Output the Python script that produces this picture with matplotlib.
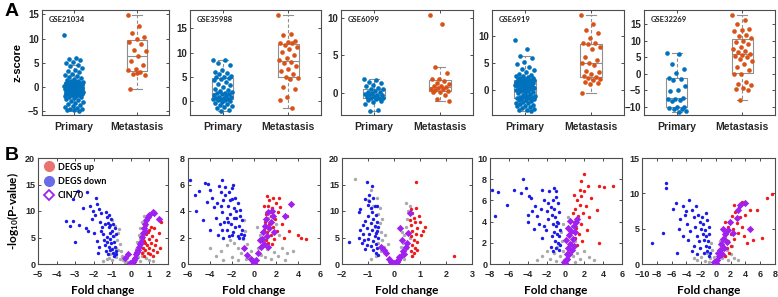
import numpy as np
import matplotlib
matplotlib.use('Agg')
import matplotlib.pyplot as plt
from matplotlib.lines import Line2D

plt.rcParams['font.family'] = ['Liberation Sans', 'DejaVu Sans']
plt.rcParams['mathtext.fontset'] = 'custom'
plt.rcParams['mathtext.rm'] = 'Lato:bold'
plt.rcParams['mathtext.it'] = 'Lato:bold'
plt.rcParams['mathtext.default'] = 'rm'

# ---- panel A: z-scores per dataset ----
datasets = ['GSE21034', 'GSE35988', 'GSE6099', 'GSE6919', 'GSE32269']
groups = ['Primary', 'Metastasis']

gse21034_primary = [10.7, 6.0, 5.8, 5.6, 5.2, 4.9, 4.6, 4.3, 3.9, 3.6, 3.3, 3.0, 2.7, 2.5, 2.2, 2.0, 1.8, 1.6, 1.4, 1.3, 1.2, 1.1,
                    1.0, 0.95, 0.9, 0.8, 0.75, 0.7, 0.6, 0.55, 0.5, 0.4, 0.35, 0.3, 0.2, 0.15, 0.1, 0.05, 0.0, -0.05, -0.1, -0.1, -0.15, -0.2,
                    -0.25, -0.3, -0.35, -0.4, -0.5, -0.55, -0.6, -0.7, -0.75, -0.8, -0.9, -0.95, -1.0, -1.05, -1.1, -1.2, -1.25, -1.3, -1.35, -1.4, -1.45, -1.5,
                    -1.6, -1.7, -1.8, -1.9, -2.0, -2.1, -2.3, -2.5, -2.7, -2.9, -3.1, -3.3, -3.5, -3.7, -3.9, -4.1, -4.3, -4.5, -4.6, -4.7, -4.8, -4.9]
gse21034_meta = [14.9, 12.5, 11.2, 10.3, 10.0, 9.2, 8.8, 7.6, 7.4, 6.3, 5.4, 4.6, 3.8, 3.4, 3.0, 2.7, 2.5, 2.9, -0.4]

gse35988_primary = [8.5, 8.4, 7.8, 7.5, 6.5, 6.0, 5.8, 5.5, 5.2, 5.0, 4.9, 4.8, 4.6, 4.4, 4.0, 3.6, 3.2, 2.8, 2.4, 2.2, 2.0, 1.8, 1.7, 1.6,
                    1.5, 1.4, 1.2, 1.0, 0.9, 0.8, 0.7, 0.6, 0.5, 0.4, 0.35, 0.3, 0.2, 0.0, -0.2, -0.4, -0.6, -0.8, -1.0, -1.2, -1.5, -1.8, -2.0]
gse35988_meta = [17.8, 13.9, 13.6, 12.4, 12.2, 12.0, 11.9, 11.6, 11.2, 10.8, 10.2, 9.6, 8.8, 8.4, 8.0, 7.8, 7.2, 6.7, 6.2, 5.6,
                 5.0, 4.8, 4.6, 2.9, 2.5, 0.8, 0.2, -1.4]

gse6099_primary = [1.8, 1.7, 1.5, 1.3, 1.1, 0.9, 0.7, 0.6, 0.5, 0.3, 0.2, 0.1, 0.0, -0.1, -0.2, -0.3, -0.3, -0.4, -0.5, -0.6,
                   -0.7, -0.7, -0.8, -0.9, -1.0, -1.2, -1.4, -2.2, -2.4]
gse6099_meta = [10.3, 9.2, 3.5, 2.6, 1.9, 1.8, 1.6, 1.4, 1.2, 1.0, 0.9, 0.8, 0.7, 0.6, 0.5, 0.4, 0.3, 0.2, 0.1, -0.3, -0.8, -1.1]

gse6919_primary = [9.3, 7.5, 6.3, 5.8, 5.2, 4.7, 4.3, 3.9, 3.6, 3.3, 3.0, 2.8, 2.6, 2.45, 2.3, 2.2, 2.1, 2.0, 1.9, 1.85,
                   1.8, 1.75, 1.7, 1.6, 1.55, 1.5, 1.4, 1.35, 1.3, 1.2, 1.15, 1.1, 1.0, 0.95, 0.9, 0.85, 0.8, 0.75, 0.7, 0.65,
                   0.55, 0.5, 0.4, 0.3, 0.2, 0.1, 0.0, -0.1, -0.2, -0.3, -0.45, -0.6, -0.7, -0.8, -0.95, -1.1, -1.2, -1.3, -1.4, -1.45,
                   -1.55, -1.6, -1.7, -1.8, -1.9, -2.0, -2.1, -2.2, -2.4, -2.5, -2.7, -2.8, -3.0, -3.1, -3.3, -3.4, -3.5, -3.7, -3.8, -4.0]
gse6919_meta = [13.9, 12.2, 11.0, 10.5, 9.6, 8.7, 8.6, 8.4, 8.0, 7.5, 6.0, 5.5, 5.0, 4.9, 4.6, 3.5, 3.2, 3.0, 2.6, 2.4,
                2.2, 2.0, 1.8, 1.5, 1.2, 1.0, -0.7]

gse32269_primary = [6.2, 6.0, 2.8, 1.5, 0.2, -1.2, -1.5, -2.0, -3.8, -5.0, -5.2, -7.5, -7.6, -7.8, -8.0, -8.2, -10.0, -10.2,
                    -10.4, -10.6, -10.8, -11.2, -11.5]
gse32269_meta = [17.8, 16.2, 15.0, 13.5, 13.2, 12.8, 11.8, 11.3, 10.8, 10.0, 9.5, 9.0, 8.2, 7.5, 7.0, 6.5, 6.0, 5.8, 5.5, 5.0,
                 4.5, 4.0, 3.0, 2.0, 1.0, 0.0, -0.2, -2.5, -3.0, -3.5, -4.2, -4.5, -5.0, -8.0]

zscores = [(gse21034_primary, gse21034_meta), (gse35988_primary, gse35988_meta), (gse6099_primary, gse6099_meta),
           (gse6919_primary, gse6919_meta), (gse32269_primary, gse32269_meta)]
z_ylims = [(-5.8, 15.9), (-2.9, 18.8), (-2.9, 11.0), (-4.7, 14.8), (-12.5, 19.3)]
z_yticks = [[-5, 0, 5, 10, 15], [0, 5, 10, 15], [0, 5, 10], [0, 5, 10], [-10, -5, 0, 5, 10, 15]]

# ---- panel B: volcano plots (fold change, -log10 p) ----
v1_gray = [(-1.5, 0.6), (-1.2, 1.2), (-1.0, 0.8), (-0.9, 2.0), (-0.8, 3.1), (-0.75, 4.5), (-0.7, 5.8), (-0.65, 6.6), (-0.6, 3.8),
           (-0.55, 2.4), (-0.5, 1.5), (-0.4, 0.8), (-0.3, 0.4), (-0.6, 1.0), (-0.8, 1.4), (-1.1, 1.8), (-1.3, 0.9), (-0.7, 2.7),
           (0.2, 1.8), (0.3, 2.9), (0.35, 4.2), (0.45, 5.5), (0.5, 6.8), (0.6, 8.0), (0.7, 9.0), (0.55, 3.6), (0.4, 1.3), (0.6, 1.5),
           (0.8, 1.2), (1.0, 0.8), (1.2, 0.5), (0.5, 0.6), (-0.2, 0.3), (0.1, 0.2), (0.65, 2.2), (0.5, 4.8), (0.75, 7.5),
           (-0.85, 7.2), (-1.0, 8.3), (-0.9, 5.2)]
v1_down = [(-3.5, 8.1), (-3.1, 8.2), (-3.3, 7.2), (-2.8, 7.4), (-3.1, 12.2), (-2.85, 13.8), (-2.35, 13.5), (-1.9, 12.5),
           (-2.4, 6.8), (-2.3, 6.2), (-2.0, 5.8), (-1.8, 4.3), (-1.7, 3.3), (-1.75, 2.0), (-3.0, 4.2), (-2.6, 10.5), (-2.2, 11.0),
           (-2.05, 10.0), (-1.95, 9.2), (-2.1, 8.4), (-1.8, 11.3), (-1.7, 10.4), (-1.6, 9.6), (-1.65, 8.0), (-1.55, 7.0),
           (-1.5, 5.6), (-1.45, 4.5), (-1.6, 6.2), (-1.35, 9.8), (-1.3, 8.9), (-1.25, 7.8), (-1.2, 6.9), (-1.15, 5.9),
           (-1.1, 4.8), (-1.05, 3.9), (-1.0, 2.9), (-0.95, 2.1), (-0.9, 1.6), (-1.4, 3.6), (-1.35, 2.5), (-1.3, 5.1),
           (-1.2, 3.2), (-1.1, 7.3), (-1.0, 6.3), (-0.95, 5.2), (-0.9, 4.2), (-0.85, 3.3), (-0.8, 2.5), (-1.25, 1.9),
           (-1.15, 2.6), (-1.05, 8.5), (-0.95, 7.6), (-0.85, 6.8), (-0.8, 5.7), (-1.4, 7.5), (-1.2, 9.2), (-1.3, 4.2), (-0.8, 1.8)]
v1_up = [(0.6, 2.0), (0.65, 3.1), (0.7, 4.4), (0.7, 1.6), (0.75, 2.6), (0.8, 5.6), (0.85, 3.6), (0.9, 2.1), (0.95, 4.8),
         (1.0, 6.4), (1.0, 3.0), (1.05, 1.8), (1.1, 4.0), (1.15, 5.2), (1.2, 2.6), (1.25, 6.8), (1.3, 3.5), (1.35, 4.6),
         (1.4, 2.2), (1.5, 5.8), (1.55, 3.1), (1.6, 7.9), (0.8, 7.3), (0.9, 6.1), (1.1, 7.0), (0.75, 4.0), (1.2, 1.5), (0.65, 5.0)]
v1_cin = [(-0.3, 1.1), (-0.17, 1.9), (0.0, 0.0), (0.05, 0.1), (0.1, 0.3), (0.15, 0.7), (-0.05, 0.2), (0.2, 1.2), (0.3, 1.8),
          (0.4, 2.6), (0.46, 3.3), (0.55, 4.2), (0.6, 5.1), (0.64, 5.9), (0.7, 6.8), (0.78, 7.6), (0.82, 8.3), (0.9, 8.9),
          (1.0, 9.2), (1.2, 9.8), (1.25, 9.6), (1.5, 8.5), (0.5, 3.8), (0.35, 2.2), (0.75, 6.3)]

v2_gray = [(-3.5, 0.6), (-3.0, 1.0), (-2.5, 1.4), (-2.0, 0.5), (-1.8, 1.6), (-1.5, 1.2), (-1.2, 0.8), (-1.0, 1.9), (-0.8, 2.5),
           (-0.6, 1.5), (-0.5, 0.5), (-0.3, 1.0), (-0.2, 0.3), (0.2, 0.4), (0.4, 1.2), (0.5, 2.2), (0.6, 0.7), (0.8, 1.6),
           (1.0, 0.5), (1.2, 1.1), (1.5, 0.4), (1.8, 0.9), (2.2, 0.6), (2.5, 1.2), (3.0, 0.8), (-4.0, 1.2), (-2.2, 1.8),
           (-1.5, 0.3), (0.9, 2.8), (1.3, 3.5), (1.6, 4.2), (2.0, 3.0), (2.3, 2.2), (-0.9, 3.3), (-0.7, 0.4), (0.3, 2.8),
           (1.1, 1.9), (-2.8, 0.3), (2.8, 0.3), (3.5, 1.0)]
v2_down = [(-5.8, 6.35), (-4.5, 6.1), (-4.2, 6.05), (-5.0, 5.5), (-5.3, 4.0), (-4.6, 3.3), (-2.9, 6.35), (-4.0, 5.6),
           (-3.8, 5.0), (-3.6, 4.3), (-4.3, 4.7), (-5.4, 5.2), (-3.2, 5.9), (-3.5, 3.5), (-4.0, 2.6), (-3.3, 2.2),
           (-3.0, 5.4), (-2.8, 4.8), (-2.6, 5.2), (-2.4, 4.4), (-2.2, 3.8), (-2.0, 4.9), (-1.8, 4.2), (-1.6, 3.5), (-1.4, 2.9),
           (-1.2, 2.3), (-1.0, 2.0), (-2.9, 3.9), (-2.7, 3.2), (-2.5, 2.6), (-2.3, 2.1), (-2.1, 3.0), (-1.9, 2.4), (-1.7, 2.8),
           (-1.5, 2.1), (-1.3, 3.6), (-1.1, 2.6), (-0.9, 2.2), (-2.6, 5.8), (-2.3, 5.4), (-2.0, 5.7), (-1.7, 5.0), (-1.5, 4.6),
           (-1.3, 4.1), (-1.1, 3.3), (-2.9, 2.6), (-3.1, 3.0), (-2.2, 4.8), (-1.8, 3.5), (-1.6, 4.0), (-1.9, 6.0), (-2.5, 3.5),
           (-3.4, 4.6), (-3.0, 4.4), (-2.8, 2.0), (-2.4, 3.2), (-2.0, 2.2), (-1.4, 2.0)]
v2_up = [(0.8, 2.0), (0.9, 2.6), (1.0, 3.2), (1.05, 1.8), (1.1, 3.8), (1.2, 2.4), (1.25, 4.4), (1.3, 1.6), (1.35, 3.0),
         (1.4, 4.8), (1.5, 2.2), (1.55, 3.6), (1.6, 4.2), (1.7, 2.8), (1.75, 5.0), (1.8, 1.9), (1.9, 3.4), (2.0, 4.6),
         (2.1, 2.5), (2.2, 3.9), (2.3, 5.0), (2.5, 3.0), (2.7, 2.0), (2.98, 3.6), (3.2, 2.5), (4.0, 2.2), (4.3, 2.0),
         (4.7, 1.9), (1.6, 1.5), (0.95, 4.4), (1.15, 5.1), (2.4, 4.3)]
v2_cin = [(-0.9, 1.2), (-0.6, 0.7), (-0.3, 0.4), (0.0, 0.1), (0.2, 0.3), (0.4, 0.8), (0.6, 1.3), (0.7, 1.9), (0.8, 2.4),
          (0.9, 1.5), (1.0, 2.9), (1.1, 3.4), (1.2, 2.1), (1.3, 3.9), (1.4, 2.7), (1.5, 3.2), (1.6, 4.0), (1.7, 3.6),
          (1.8, 2.4), (2.85, 3.6), (3.4, 4.5), (-0.1, 0.2), (0.5, 1.8), (1.25, 1.3)]

v3_gray = [(-1.5, 16.0), (-1.0, 12.0), (-0.9, 14.0), (-0.8, 11.0), (-0.6, 9.5), (-0.55, 7.8), (-0.5, 6.0), (-0.45, 4.6),
           (-0.4, 3.2), (-0.3, 2.0), (-0.2, 1.0), (-0.5, 2.5), (-0.6, 4.0), (-0.55, 10.5), (-0.45, 8.5), (-0.35, 5.5),
           (-0.7, 1.5), (-0.9, 1.0), (-0.25, 3.8), (0.2, 1.2), (0.3, 2.4), (0.35, 4.0), (0.4, 5.5), (0.45, 7.0), (0.5, 8.5),
           (0.55, 10.0), (0.6, 11.0), (0.5, 3.0), (0.6, 5.0), (0.4, 1.0), (0.7, 1.5), (0.1, 0.5), (-0.1, 0.4), (0.45, 11.5),
           (0.3, 6.0), (-0.65, 12.5), (-0.75, 7.0), (0.25, 3.2)]
v3_down = [(-1.04, 15.4), (-0.85, 14.7), (-1.3, 10.3), (-1.33, 9.8), (-1.2, 7.4), (-1.15, 4.6), (-1.25, 3.9), (-1.75, 4.2),
           (-1.1, 12.3), (-0.95, 13.0), (-0.8, 12.4), (-1.0, 11.2), (-0.9, 10.6), (-0.75, 10.9), (-0.85, 9.9), (-0.7, 9.2),
           (-1.0, 9.0), (-0.8, 8.4), (-0.65, 8.0), (-0.9, 7.7), (-0.75, 7.2), (-1.05, 6.7), (-0.85, 6.4), (-0.65, 6.2),
           (-0.95, 5.6), (-0.75, 5.3), (-0.6, 4.9), (-1.0, 4.7), (-0.8, 4.3), (-0.7, 3.8), (-0.9, 3.4), (-0.65, 3.0),
           (-0.8, 2.6), (-0.7, 2.1), (-0.6, 1.7), (-1.1, 2.8), (-1.2, 5.6), (-1.3, 6.4), (-1.1, 8.2), (-0.95, 11.8),
           (-0.65, 11.0), (-0.7, 5.8), (-0.6, 7.0), (-1.35, 5.0), (-1.05, 3.6)]
v3_up = [(0.85, 15.4), (0.65, 10.3), (0.7, 9.6), (0.75, 8.7), (0.8, 7.9), (0.65, 7.4), (0.9, 6.8), (0.7, 6.2), (0.85, 5.7),
         (0.65, 5.2), (0.75, 4.6), (0.9, 4.1), (0.7, 3.6), (0.8, 3.0), (0.65, 2.5), (0.75, 2.0), (0.7, 1.6), (1.0, 8.0),
         (1.2, 7.0), (1.05, 5.5), (0.95, 9.0), (1.1, 6.2), (0.9, 2.7), (2.32, 1.5), (0.6, 8.3), (0.85, 10.5)]
v3_cin = [(-0.5, 3.2), (-0.4, 2.6), (-0.3, 2.0), (-0.2, 1.0), (-0.1, 0.4), (0.0, 0.1), (0.05, 0.0), (0.1, 0.3), (0.15, 0.8),
          (0.2, 1.3), (0.24, 6.8), (0.3, 4.6), (0.5, 3.9), (0.55, 5.8), (0.6, 9.6), (0.35, 2.4), (0.45, 3.2), (-0.05, 0.2),
          (0.4, 1.8), (0.25, 1.6)]

v4_gray = [(-2.5, 0.8), (-2.0, 1.2), (-1.6, 0.5), (-1.2, 1.0), (-0.9, 1.6), (-0.6, 0.8), (-0.4, 2.2), (-0.3, 1.2), (-0.2, 0.4),
           (0.2, 0.6), (0.4, 2.8), (0.5, 1.6), (0.7, 3.6), (0.8, 0.8), (1.0, 2.2), (1.2, 1.0), (1.5, 0.5), (2.0, 1.2),
           (2.5, 0.7), (-0.5, 3.0), (-0.3, 3.8), (0.3, 4.4), (-3.0, 0.4), (3.0, 0.4), (-1.0, 0.3), (1.0, 0.2), (-0.7, 1.9),
           (0.6, 1.2)]
v4_down = [(-7.8, 7.0), (-7.2, 6.75), (-7.5, 4.5), (-4.7, 6.7), (-4.2, 7.2), (-3.9, 6.4), (-3.7, 6.2), (-4.0, 4.6),
           (-4.0, 4.0), (-3.0, 4.5), (-2.3, 3.6), (-3.2, 5.5), (-1.7, 6.9), (-0.95, 6.9), (-1.25, 7.2), (-2.6, 5.2),
           (-2.3, 6.0), (-2.0, 5.0), (-1.9, 4.2), (-2.1, 3.2), (-2.8, 3.8), (-3.5, 5.0), (-2.5, 7.0), (-1.8, 5.8),
           (-3.3, 3.3), (-1.5, 5.4), (-1.4, 4.6), (-1.3, 3.8), (-1.2, 3.0), (-1.1, 2.2), (-1.0, 1.5), (-1.45, 2.6),
           (-1.35, 6.0), (-1.2, 5.2), (-1.1, 4.4), (-1.0, 3.6), (-0.9, 2.8), (-0.8, 2.0), (-0.7, 1.3), (-0.65, 4.9),
           (-0.6, 3.2), (-0.55, 1.8), (-0.8, 5.8), (-0.9, 4.0), (-1.55, 1.6), (-1.3, 1.2), (-0.75, 3.9), (-1.0, 6.3),
           (-0.7, 2.6), (-2.5, 2.5), (-4.5, 8.0), (-5.5, 7.0), (-6.2, 5.6)]
v4_up = [(0.6, 2.0), (0.7, 3.0), (0.8, 1.5), (0.9, 4.0), (1.0, 2.5), (1.0, 5.2), (1.1, 3.4), (1.2, 6.0), (1.2, 1.8),
         (1.3, 4.5), (1.4, 2.8), (1.5, 5.6), (1.5, 7.0), (1.6, 3.8), (1.7, 6.4), (1.8, 2.2), (1.9, 4.8), (1.95, 8.5),
         (2.0, 6.9), (2.2, 5.5), (2.3, 3.2), (2.5, 4.4), (2.7, 6.2), (3.35, 5.1), (3.6, 2.0), (3.6, 7.4), (4.1, 7.3),
         (5.05, 7.4), (0.9, 6.5), (1.6, 7.8), (2.4, 7.4), (0.75, 4.8)]
v4_cin = [(0.0, 0.1), (0.1, 0.4), (-0.1, 0.2), (0.2, 0.9), (0.3, 1.5), (0.1, 2.3), (0.3, 3.4), (0.4, 2.7), (0.5, 1.9),
          (0.6, 3.1), (0.7, 1.3), (0.8, 2.4), (0.9, 3.6), (1.0, 3.0), (1.13, 4.0), (1.2, 4.2), (0.5, 4.1), (0.2, 0.5),
          (0.4, 0.9), (0.9, 1.7)]

v5_gray = [(-2.5, 0.5), (-2.0, 1.0), (-1.5, 0.4), (-1.2, 1.6), (-0.8, 0.8), (-0.5, 2.0), (-0.3, 1.0), (0.3, 0.6), (0.5, 1.8),
           (0.8, 0.9), (1.0, 2.5), (1.3, 1.2), (1.6, 0.6), (2.0, 1.4), (2.5, 0.8), (3.0, 0.5), (-3.0, 0.8), (0.6, 3.2),
           (1.2, 3.8), (-0.6, 3.0), (1.5, 2.0), (-1.0, 0.3), (0.2, 0.2), (2.2, 2.5)]
v5_down = [(-6.8, 11.5), (-6.7, 10.8), (-7.1, 4.4), (-8.6, 2.95), (-5.2, 1.5), (-5.4, 8.7), (-4.5, 8.2), (-3.6, 9.1),
           (-3.2, 7.7), (-5.8, 7.8), (-4.8, 6.4), (-5.0, 5.0), (-4.2, 6.9), (-3.9, 5.6), (-3.5, 4.6), (-4.4, 4.0), (-3.8, 3.4),
           (-3.0, 6.6), (-2.8, 5.2), (-2.6, 4.0), (-2.9, 2.6), (-3.3, 1.9), (-2.4, 7.0), (-2.2, 6.0), (-2.0, 5.0), (-1.8, 4.2),
           (-1.6, 3.4), (-1.4, 2.6), (-1.2, 1.8), (-1.0, 1.2), (-2.3, 3.2), (-2.1, 2.2), (-1.9, 6.6), (-1.7, 5.6), (-1.5, 4.8),
           (-1.3, 4.0), (-1.1, 3.2), (-0.9, 2.4), (-0.8, 1.5), (-2.5, 1.4), (-1.6, 1.5), (-1.0, 5.2), (-0.9, 4.2), (-1.2, 6.2),
           (-2.7, 8.2), (-4.0, 7.5), (-1.4, 7.2)]
v5_up = [(0.8, 1.5), (1.0, 2.6), (1.2, 3.6), (1.2, 1.2), (1.4, 4.5), (1.5, 2.2), (1.6, 5.2), (1.7, 3.2), (1.8, 1.6), (1.9, 6.0),
         (2.0, 4.2), (2.1, 2.6), (2.2, 6.8), (2.3, 5.0), (2.5, 3.5), (2.6, 7.4), (2.8, 5.8), (3.0, 4.4), (3.1, 8.0), (3.3, 6.6),
         (3.5, 8.8), (3.6, 5.2), (4.0, 7.0), (4.6, 7.7), (5.0, 3.4), (5.6, 7.7), (6.2, 3.7), (6.86, 9.4), (7.6, 9.95),
         (4.2, 3.0), (2.4, 8.3), (3.8, 4.0), (1.3, 6.0)]
v5_cin = [(0.0, 0.1), (0.2, 0.5), (-0.2, 0.3), (0.4, 1.1), (0.5, 2.0), (0.7, 2.8), (0.8, 1.4), (1.0, 3.5), (1.1, 2.2),
          (1.3, 4.2), (1.5, 3.1), (1.6, 4.8), (1.85, 6.0), (2.3, 4.4), (2.8, 6.5), (3.0, 7.6), (3.2, 8.3), (3.9, 8.6),
          (4.6, 4.95), (0.9, 5.0), (0.3, 1.6)]

volcano = [(v1_gray, v1_down, v1_up, v1_cin), (v2_gray, v2_down, v2_up, v2_cin), (v3_gray, v3_down, v3_up, v3_cin),
           (v4_gray, v4_down, v4_up, v4_cin), (v5_gray, v5_down, v5_up, v5_cin)]
v_xlims = [(-5, 2), (-6, 6), (-2, 3), (-8, 6), (-10, 8)]
v_xticks = [range(-5, 3), range(-6, 7, 2), range(-2, 4), range(-8, 7, 2), range(-10, 9, 2)]
v_ylims = [(0, 20), (0, 8), (0, 20), (0, 10), (0, 15)]
v_yticks = [range(0, 21, 5), range(0, 9, 2), range(0, 21, 5), range(0, 11, 2), range(0, 16, 5)]

# colours
c_prim = '#0072BD'
c_meta = '#D95319'
c_box = '#8f8f8f'
c_axis = '#4d4d4d'
c_gray = '#a9a9a9'
c_blue = '#1a1aeb'
c_red = '#f01818'
c_cin = '#a020f0'

W, H = 778, 297
fig = plt.figure(figsize=(W / 100, H / 100), dpi=100)

top_l = [42, 190, 341, 492, 644]
top_r = [169, 321, 473, 624, 775]
bot_l = [38, 188, 342, 490, 642]
bot_r = [168, 320, 472, 622, 775]


def style_axes(ax, size=7):
    for s in ax.spines.values():
        s.set_color(c_axis)
        s.set_linewidth(0.8)
    ax.tick_params(direction='in', length=2.5, width=0.7, color=c_axis, top=True, right=True,
                   labelsize=size, labelcolor='#262626', pad=2)
    for lab in ax.get_xticklabels() + ax.get_yticklabels():
        lab.set_fontweight('bold')


for i in range(5):
    ax = fig.add_axes([top_l[i] / W, (H - 115) / H, (top_r[i] - top_l[i]) / W, 105 / H])
    prim, meta = zscores[i]
    ax.boxplot([prim, meta], positions=[1, 2], widths=0.32, showfliers=False, capwidths=0.16,
               boxprops=dict(color=c_box, lw=0.8), medianprops=dict(color=c_box, lw=0.8),
               whiskerprops=dict(color=c_box, lw=0.8, linestyle=(0, (3, 2))), capprops=dict(color=c_box, lw=0.8))
    for pos, vals, col in [(1, prim, c_prim), (2, meta, c_meta)]:
        n = len(vals)
        jit = ((np.arange(n) * 0.6180339887) % 1 - 0.5) * 0.3
        ax.scatter(pos + jit, vals, s=11, color=col, linewidths=0, zorder=3)
    ax.set_xlim(0.5, 2.5)
    ax.set_ylim(*z_ylims[i])
    ax.set_yticks(z_yticks[i])
    ax.set_xticks([1, 2])
    ax.set_xticklabels(groups)
    style_axes(ax)
    for lab in ax.get_xticklabels():
        lab.set_fontsize(7.5)
    ax.tick_params(axis='x', pad=5)
    ax.text(0.05, 0.94, datasets[i], transform=ax.transAxes, ha='left', va='top',
            fontsize=5.5, fontweight='bold', color='#222222', family=['Lato', 'DejaVu Sans'])
    if i == 0:
        ax.set_ylabel('z-score', fontsize=8, fontweight='bold', labelpad=4)

for i in range(5):
    ax = fig.add_axes([bot_l[i] / W, (H - 264) / H, (bot_r[i] - bot_l[i]) / W, 106 / H])
    gray, down, up, cin = [np.array(v) for v in volcano[i]]
    ax.scatter(gray[:, 0], gray[:, 1], s=6, color=c_gray, linewidths=0, zorder=2)
    ax.scatter(down[:, 0], down[:, 1], s=6, color=c_blue, linewidths=0, zorder=3)
    ax.scatter(up[:, 0], up[:, 1], s=6, color=c_red, linewidths=0, zorder=3)
    ax.scatter(cin[:, 0], cin[:, 1], s=14, marker='D', color=c_cin, linewidths=0, zorder=4)
    ax.set_xlim(*v_xlims[i])
    ax.set_ylim(*v_ylims[i])
    ax.set_xticks(list(v_xticks[i]))
    ax.set_yticks(list(v_yticks[i]))
    style_axes(ax, size=6.5)
    ax.tick_params(axis='x', pad=4)
    ax.set_xlabel('Fold change', fontsize=8.5, fontweight='bold', family=['Lato', 'DejaVu Sans'], labelpad=5)
    if i == 0:
        ax.set_ylabel('-log$_{10}$(P-value)', fontsize=8.5, fontweight='bold', family=['Lato', 'DejaVu Sans'], labelpad=3)
        handles = [Line2D([], [], marker='o', ls='', ms=7, color='#e8736f'),
                   Line2D([], [], marker='o', ls='', ms=7, color='#6b6be6'),
                   Line2D([], [], marker='D', ls='', ms=5, mfc='none', mec=c_cin, mew=1.3)]
        ax.legend(handles, ['DEGS up', 'DEGS down', 'CIN70'], loc='upper left', frameon=False,
                  prop=dict(family=['Lato', 'DejaVu Sans'], weight='bold', size=6.5),
                  handletextpad=0.2, borderpad=0.3, labelspacing=0.6, handlelength=1.5, borderaxespad=0.2)

fig.text(5 / W, 1 - 16 / H, 'A', fontsize=14, fontweight='bold', va='baseline')
fig.text(5 / W, 1 - 160 / H, 'B', fontsize=14, fontweight='bold', va='baseline')

fig.savefig('out.png', dpi=100)
